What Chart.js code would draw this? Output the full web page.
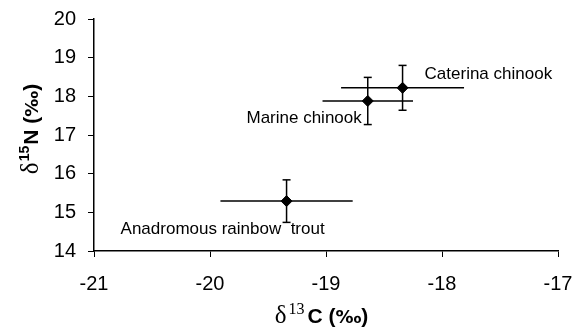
<!DOCTYPE html>
<html lang="en">
<head>
<meta charset="UTF-8">
<title>Stable isotopes</title>
<script src="https://cdn.jsdelivr.net/npm/chart.js@4"></script>
<style>
    body { margin: 0; background: #fff; }
    .chart { width: 575px; height: 328px; }
</style>
</head>
<body>
<div class="chart"><canvas id="isoChart"></canvas></div>
<script>
    // data
    const groups = ['Caterina chinook', 'Marine chinook', 'Anadromous rainbow  trout'];
    const carbon = [-18.34, -18.64, -19.34];
    const nitrogen = [18.22, 17.88, 15.29];
    const carbonErr = [0.53, 0.39, 0.57];
    const nitrogenErr = [0.58, 0.61, 0.55];
    const xTicks = [-21, -20, -19, -18, -17];
    const yTicks = [14, 15, 16, 17, 18, 19, 20];

    // label placement in pixels relative to each point (alphabetic baseline)
    const labelPos = [
        { dx: 22, dy: -9, align: 'left' },
        { dx: -6, dy: 22, align: 'right' },
        { dx: -166, dy: 33, align: 'left' }
    ];

    const sans = '"Liberation Sans", Arial, sans-serif';
    const serif = '"Liberation Serif", "Times New Roman", serif';
    const permil = '"DejaVu Sans", sans-serif';

    const datasets = [];
    groups.forEach((g, i) => {
        // horizontal error bar (no caps)
        datasets.push({
            type: 'line',
            data: [{ x: carbon[i] - carbonErr[i], y: nitrogen[i] }, { x: carbon[i] + carbonErr[i], y: nitrogen[i] }],
            borderColor: '#000',
            borderWidth: 1.5,
            pointRadius: 0,
            showLine: true
        });
        // vertical error bar with caps
        datasets.push({
            type: 'line',
            data: [{ x: carbon[i], y: nitrogen[i] - nitrogenErr[i] }, { x: carbon[i], y: nitrogen[i] + nitrogenErr[i] }],
            borderColor: '#000',
            borderWidth: 1.5,
            pointStyle: 'line',
            pointRadius: 4,
            pointBorderColor: '#000',
            pointBorderWidth: 1.5,
            showLine: true
        });
    });
    datasets.push({
        type: 'scatter',
        label: 'means',
        data: groups.map((g, i) => ({ x: carbon[i], y: nitrogen[i] })),
        pointStyle: 'rectRot',
        pointRadius: 5.5,
        backgroundColor: '#000',
        borderColor: '#000'
    });

    // draw a title made of runs in different fonts, centred on cx
    function drawRuns(ctx, runs, cx, cy) {
        let total = 0;
        runs.forEach(r => { ctx.font = r.font; r.w = ctx.measureText(r.t).width + (r.gap || 0); total += r.w; });
        let x = cx - total / 2;
        runs.forEach(r => {
            ctx.font = r.font;
            ctx.fillText(r.t, x, cy + (r.dy || 0));
            x += r.w;
        });
    }

    const extras = {
        id: 'extras',
        afterDraw(chart) {
            const ctx = chart.ctx;
            const xs = chart.scales.x, ys = chart.scales.y;
            const area = chart.chartArea;
            ctx.save();
            ctx.fillStyle = '#000';
            ctx.textBaseline = 'alphabetic';
            // point labels
            ctx.font = '17px ' + sans;
            groups.forEach((g, i) => {
                const p = labelPos[i];
                ctx.textAlign = p.align;
                ctx.fillText(g, xs.getPixelForValue(carbon[i]) + p.dx, ys.getPixelForValue(nitrogen[i]) + p.dy);
            });
            // axis titles
            ctx.textAlign = 'left';
            drawRuns(ctx, [
                { t: '\u03B4', font: '25px ' + serif, gap: 2 },
                { t: '13', font: '16px ' + serif, dy: -9, gap: 3 },
                { t: 'C (', font: 'bold 21px ' + sans },
                { t: '\u2030', font: 'bold 18px ' + permil },
                { t: ')', font: 'bold 21px ' + sans }
            ], (area.left + area.right) / 2 - 4.5, 323);
            ctx.translate(38, (area.top + area.bottom) / 2 - 6);
            ctx.rotate(-Math.PI / 2);
            drawRuns(ctx, [
                { t: '\u03B4', font: '25px ' + serif, gap: 1 },
                { t: '15', font: 'bold 14px ' + sans, dy: -9, gap: 1 },
                { t: 'N (', font: 'bold 21px ' + sans },
                { t: '\u2030', font: 'bold 18px ' + permil },
                { t: ')', font: 'bold 21px ' + sans }
            ], 0, 0);
            ctx.restore();
        }
    };

    const ctx = document.getElementById('isoChart').getContext('2d');
    new Chart(ctx, {
        type: 'scatter',
        data: { datasets: datasets },
        options: {
            responsive: true,
            maintainAspectRatio: false,
            animation: false,
            layout: { padding: { top: 19, right: 17, left: 0, bottom: 0 } },
            plugins: {
                legend: { display: false },
                tooltip: { enabled: false }
            },
            scales: {
                x: {
                    type: 'linear',
                    min: xTicks[0],
                    max: xTicks[xTicks.length - 1],
                    afterBuildTicks: s => { s.ticks = xTicks.map(v => ({ value: v })); },
                    afterFit: s => { s.height = 77; s.paddingLeft = 0; s.paddingRight = 0; },
                    grid: { drawOnChartArea: false, drawTicks: true, tickLength: 6, color: '#000' },
                    border: { color: '#000', width: 1.5 },
                    ticks: { color: '#000', padding: 15, maxRotation: 0, font: { family: sans, size: 20 } }
                },
                y: {
                    type: 'linear',
                    min: yTicks[0],
                    max: yTicks[yTicks.length - 1],
                    afterBuildTicks: s => { s.ticks = yTicks.map(v => ({ value: v })); },
                    afterFit: s => { s.width = 94; s.paddingTop = 0; s.paddingBottom = 0; },
                    grid: { drawOnChartArea: false, drawTicks: true, tickLength: 6, color: '#000' },
                    border: { color: '#000', width: 1.5 },
                    ticks: { color: '#000', padding: 12, font: { family: sans, size: 20 } }
                }
            }
        },
        plugins: [extras]
    });
</script>
</body>
</html>
